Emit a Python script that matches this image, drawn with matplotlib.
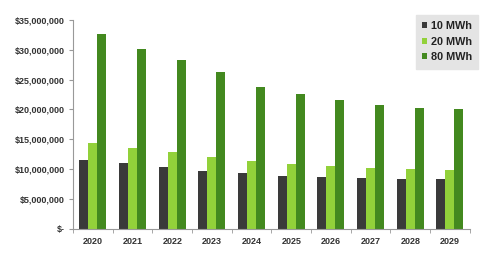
import numpy as np
import matplotlib.pyplot as plt
from matplotlib.ticker import FuncFormatter

years = ['2020', '2021', '2022', '2023', '2024', '2025', '2026', '2027', '2028', '2029']
mwh_10 = [11.55, 11.0, 10.4, 9.75, 9.3, 8.9, 8.65, 8.5, 8.35, 8.3]
mwh_20 = [14.45, 13.6, 12.95, 12.1, 11.3, 10.9, 10.5, 10.2, 10.1, 9.95]
mwh_80 = [32.6, 30.2, 28.3, 26.3, 23.8, 22.55, 21.55, 20.8, 20.3, 20.05]
series_names = ['10 MWh', '20 MWh', '80 MWh']
colors = ['#3a3a3a', '#92d13a', '#43891f']

plt.rcParams['font.family'] = ['Liberation Sans', 'DejaVu Sans']

fig = plt.figure(figsize=(4.94, 2.65), dpi=100)
ax = fig.add_axes([0.148, 0.136, 0.803, 0.789])

x = np.arange(len(years))
w = 0.227
for i, (vals, name, c) in enumerate(zip([mwh_10, mwh_20, mwh_80], series_names, colors)):
    ax.bar(x + (i - 1) * w, np.array(vals) * 1e6, w, color=c, label=name, zorder=2)

ax.set_xlim(-0.5, len(years) - 0.5)
ax.set_ylim(0, 35e6)
ax.set_yticks(np.arange(0, 35e6 + 1, 5e6))

def money(v, pos):
    if v == 0:
        return '$-'
    return '${:,.0f}'.format(v)

ax.yaxis.set_major_formatter(FuncFormatter(money))
ax.set_xticks(x)
ax.set_xticklabels(years)
ax.set_xticks(np.arange(-0.5, len(years), 1), minor=True)
ax.tick_params(axis='x', which='major', length=0, pad=6, labelsize=6.5)
ax.tick_params(axis='x', which='minor', length=3, color='#999999')
ax.tick_params(axis='y', length=3, color='#999999', labelsize=6.5, pad=3)
for lab in ax.get_xticklabels() + ax.get_yticklabels():
    lab.set_fontweight('bold')
    lab.set_color('#333333')

for s in ['top', 'right']:
    ax.spines[s].set_visible(False)
for s in ['left', 'bottom']:
    ax.spines[s].set_color('#999999')
    ax.spines[s].set_linewidth(0.8)

leg = ax.legend(loc='upper right', bbox_to_anchor=(1.03, 1.04), frameon=True,
                fancybox=False, handlelength=0.45, handleheight=0.45,
                handletextpad=0.35, labelspacing=0.5, borderpad=0.6,
                borderaxespad=0.3, prop={'weight': 'bold', 'size': 7.8})
leg.get_frame().set_facecolor('#e4e4e4')
leg.get_frame().set_edgecolor('#e4e4e4')
leg.get_frame().set_alpha(1)
for t in leg.get_texts():
    t.set_color('#222222')

fig.savefig('out.png', dpi=100)
